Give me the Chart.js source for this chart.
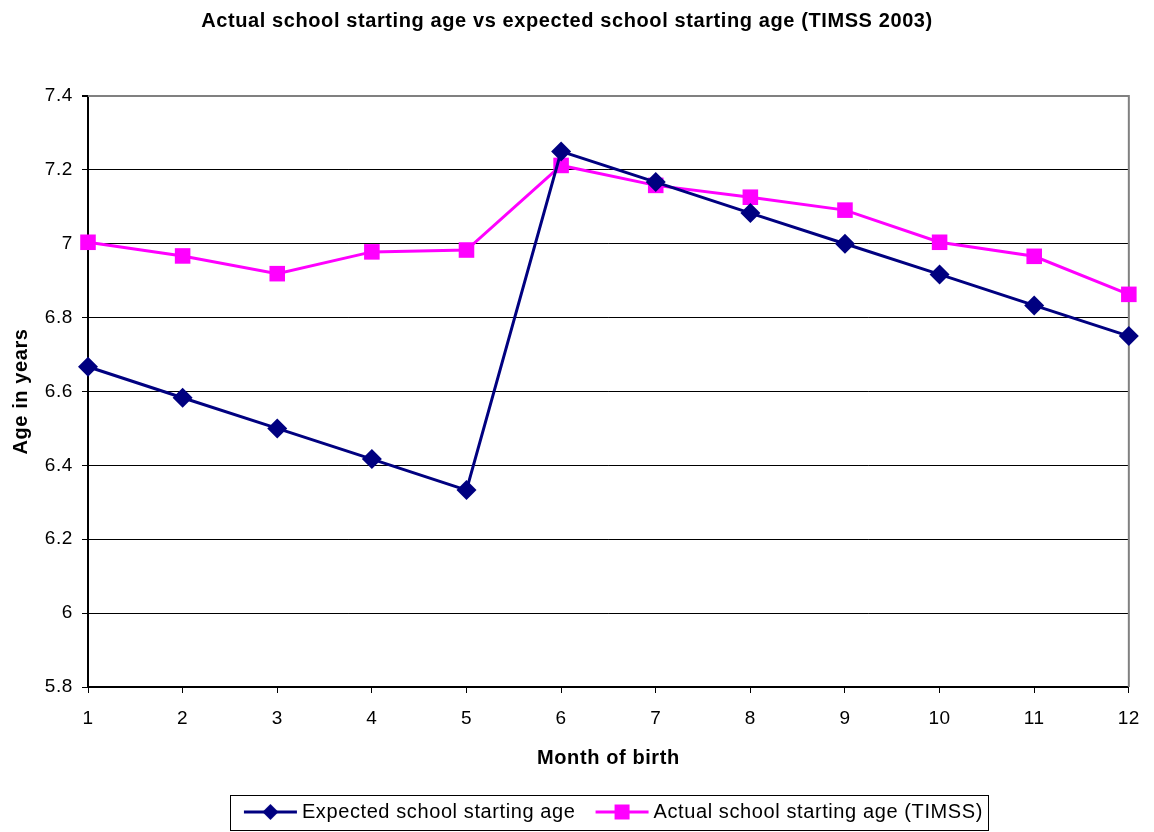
<!DOCTYPE html>
<html>
<head>
<meta charset="utf-8">
<script src="https://cdn.jsdelivr.net/npm/chart.js@4.4.1/dist/chart.umd.min.js"></script>
<style>
  html, body { margin: 0; padding: 0; background: #ffffff; }
  #wrap { position: relative; width: 1154px; height: 832px; }
</style>
</head>
<body>
<div id="wrap"><canvas id="c" width="1154" height="832"></canvas></div>
<script>
// ---- data ----
const months = ['1','2','3','4','5','6','7','8','9','10','11','12'];
const expectedAge = [6.667, 6.583, 6.5, 6.417, 6.333, 7.25, 7.167, 7.083, 7.0, 6.917, 6.833, 6.75];
const actualAge = [7.004, 6.967, 6.919, 6.978, 6.983, 7.212, 7.158, 7.126, 7.091, 7.004, 6.966, 6.863];
const yTicks = [5.8, 6.0, 6.2, 6.4, 6.6, 6.8, 7.0, 7.2, 7.4];
const yTickLabels = ['5.8', '6', '6.2', '6.4', '6.6', '6.8', '7', '7.2', '7.4'];
const seriesNames = ['Expected school starting age', 'Actual school starting age (TIMSS)'];
const chartTitle = 'Actual school starting age vs expected school starting age (TIMSS 2003)';
const xTitle = 'Month of birth';
const yTitle = 'Age in years';

const FONT = "'Liberation Sans', Arial, sans-serif";
const NAVY = '#000080';
const MAGENTA = '#FF00FF';
const SPACING = '0.6px';

function legendSymbol(color, shape) {
  const cv = document.createElement('canvas');
  cv.width = 70; cv.height = 20;
  const g = cv.getContext('2d');
  g.strokeStyle = color; g.lineWidth = 3;
  g.beginPath(); g.moveTo(16, 10); g.lineTo(69, 10); g.stroke();
  g.fillStyle = color;
  g.beginPath();
  const cx = 42.5;
  if (shape === 'diamond') {
    g.moveTo(cx, 2); g.lineTo(cx + 8, 10); g.lineTo(cx, 18); g.lineTo(cx - 8, 10); g.closePath();
  } else {
    g.rect(cx - 7.5, 2.5, 15, 15);
  }
  g.fill();
  return cv;
}
const symExpected = legendSymbol(NAVY, 'diamond');
const symActual = legendSymbol(MAGENTA, 'square');

const spacingPlugin = {
  id: 'spacing',
  beforeInit(chart) { chart.ctx.letterSpacing = SPACING; },
  beforeUpdate(chart) { chart.ctx.letterSpacing = SPACING; },
  beforeLayout(chart) { chart.ctx.letterSpacing = SPACING; },
  beforeDraw(chart) { chart.ctx.letterSpacing = SPACING; }
};

const framePlugin = {
  id: 'frame',
  beforeDatasetsDraw(chart) {
    const {ctx, chartArea: a} = chart;
    ctx.save();
    ctx.strokeStyle = '#808080';
    ctx.lineWidth = 2;
    ctx.beginPath();
    ctx.moveTo(a.left, a.top);
    ctx.lineTo(a.right, a.top);
    ctx.lineTo(a.right, a.bottom);
    ctx.stroke();
    ctx.restore();
  },
  afterDraw(chart) {
    const lg = chart.legend;
    if (!lg || !lg.legendHitBoxes || !lg.legendHitBoxes.length) return;
    const hb = lg.legendHitBoxes;
    let l = Infinity, r = -Infinity, t = Infinity, b = -Infinity;
    hb.forEach(h => { l = Math.min(l, h.left); r = Math.max(r, h.left + h.width); t = Math.min(t, h.top); b = Math.max(b, h.top + h.height); });
    const cy = (t + b) / 2;
    const ctx = chart.ctx;
    ctx.save();
    ctx.strokeStyle = '#000000';
    ctx.lineWidth = 1;
    const L = Math.round(l - 4), R = Math.round(r + 5);
    const T = Math.round(cy - 17), B = Math.round(cy + 18);
    ctx.strokeRect(L + 0.5, T + 0.5, R - L, B - T);
    ctx.restore();
  }
};

new Chart(document.getElementById('c'), {
  type: 'line',
  data: {
    labels: months,
    datasets: [
      {
        label: seriesNames[0],
        data: expectedAge,
        borderColor: NAVY,
        backgroundColor: NAVY,
        borderWidth: 3,
        pointStyle: 'rectRot',
        pointRadius: 10,
        pointHoverRadius: 10,
        pointBorderWidth: 0,
        tension: 0,
        clip: false
      },
      {
        label: seriesNames[1],
        data: actualAge,
        borderColor: MAGENTA,
        backgroundColor: MAGENTA,
        borderWidth: 3,
        pointStyle: 'rect',
        pointRadius: 11,
        pointHoverRadius: 11,
        pointBorderWidth: 0,
        tension: 0,
        clip: false
      }
    ]
  },
  options: {
    responsive: false,
    animation: false,
    events: [],
    layout: { padding: { left: 0, right: 20, top: 0, bottom: 0 } },
    plugins: {
      title: {
        display: true,
        text: chartTitle,
        color: '#000000',
        font: { family: FONT, size: 20, weight: 'bold' },
        padding: { top: 9, bottom: 63 }
      },
      legend: {
        display: true,
        position: 'bottom',
        fullSize: false,
        labels: {
          color: '#000000',
          font: { family: FONT, size: 20 },
          usePointStyle: true,
          pointStyleWidth: 58,
          boxHeight: 20,
          padding: 10,
          generateLabels(chart) {
            return [
              { text: seriesNames[0], pointStyle: symExpected, fillStyle: NAVY, strokeStyle: NAVY, lineWidth: 0, datasetIndex: 0, hidden: false },
              { text: seriesNames[1], pointStyle: symActual, fillStyle: MAGENTA, strokeStyle: MAGENTA, lineWidth: 0, datasetIndex: 1, hidden: false }
            ];
          }
        }
      },
      tooltip: { enabled: false }
    },
    scales: {
      x: {
        type: 'category',
        offset: false,
        afterFit(scale) { scale.height = 105; },
        grid: { display: true, drawOnChartArea: false, drawTicks: true, tickLength: 6, color: '#000000', lineWidth: 1 },
        border: { display: true, color: '#000000', width: 2 },
        ticks: { color: '#000000', font: { family: FONT, size: 19 }, padding: 14, maxRotation: 0, autoSkip: false },
        title: { display: true, text: xTitle, color: '#000000', font: { family: FONT, size: 20, weight: 'bold' }, padding: { top: 4, bottom: 22 } }
      },
      y: {
        type: 'linear',
        min: 5.8,
        max: 7.4,
        afterBuildTicks(scale) { scale.ticks = yTicks.map(v => ({ value: v })); },
        afterFit(scale) { scale.width = 88; },
        grid: {
          display: true,
          drawTicks: true,
          tickLength: 6,
          color: (ctx) => (ctx.tick && Math.abs(ctx.tick.value - 7.4) < 1e-6) ? '#808080' : '#000000',
          tickColor: '#000000',
          lineWidth: (ctx) => (ctx.tick && Math.abs(ctx.tick.value - 7.4) < 1e-6) ? 2 : 1
        },
        border: { display: true, color: '#000000', width: 2 },
        ticks: {
          color: '#000000',
          font: { family: FONT, size: 19 },
          padding: 9,
          callback: (v) => {
            const i = yTicks.findIndex(t => Math.abs(t - v) < 1e-6);
            return i >= 0 ? yTickLabels[i] : '';
          }
        },
        title: { display: true, text: yTitle, color: '#000000', font: { family: FONT, size: 20, weight: 'bold' }, padding: { top: 9, bottom: 0 } }
      }
    }
  },
  plugins: [spacingPlugin, framePlugin]
});
</script>
</body>
</html>
